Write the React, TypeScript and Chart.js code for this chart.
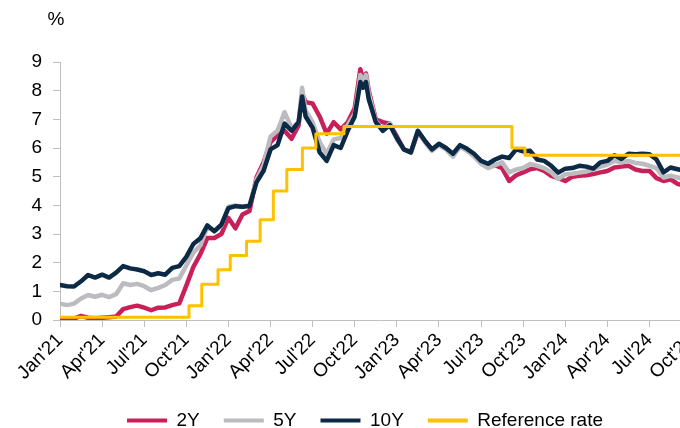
import React, { useEffect, useRef } from 'react';
import { Chart, registerables } from 'chart.js';

Chart.register(...registerables);

// month offsets from 1 Jan 2021
const months = [
  0, 0.5, 1, 1.5, 2, 2.5, 3, 3.5, 4, 4.5, 5, 5.5, 6, 6.5, 7, 7.5, 8, 8.5, 9, 9.5,
  10, 10.5, 11, 11.5, 12, 12.5, 13, 13.5, 14, 14.5, 15, 15.5, 16, 16.5, 17, 17.25, 17.5,
  18, 18.5, 19, 19.5, 20, 20.5, 21, 21.4, 21.6, 21.8, 22, 22.5, 23, 23.5, 24, 24.5,
  25, 25.5, 26, 26.5, 27, 27.5, 28, 28.5, 29, 29.5, 30, 30.5, 31, 31.5, 32, 32.5,
  33, 33.5, 34, 34.5, 35, 35.5, 36, 36.5, 37, 37.5, 38, 38.5, 39, 39.5, 40, 40.5,
  41, 41.5, 42, 42.5, 43, 43.5, 44, 44.5,
];

const yield2Y = [
  0.02, 0.0, 0.05, 0.14, 0.08, 0.06, 0.08, 0.1, 0.12, 0.38, 0.45, 0.5, 0.43, 0.34, 0.43, 0.44, 0.52, 0.58, 1.2, 1.85,
  2.3, 2.86, 2.86, 3.0, 3.56, 3.2, 3.68, 3.8, 4.97, 5.5, 6.2, 6.45, 6.6, 6.32, 6.79, 7.9, 7.6,
  7.55, 7.1, 6.5, 6.9, 6.65, 6.9, 7.4, 8.75, 8.35, 8.6, 8.0, 7.0, 6.9, 6.85, 6.4, 5.95,
  5.85, 6.55, 6.25, 5.95, 6.1, 6.0, 5.75, 6.05, 5.95, 5.75, 5.5, 5.35, 5.4, 5.3, 4.85, 5.05,
  5.15, 5.26, 5.3, 5.2, 5.03, 4.95, 4.85, 5.0, 5.03, 5.05, 5.09, 5.15, 5.2, 5.32, 5.35, 5.38,
  5.25, 5.2, 5.2, 4.95, 4.85, 4.91, 4.75, 4.68,
];

const yield5Y = [
  0.57, 0.52, 0.57, 0.75, 0.87, 0.81, 0.88, 0.8, 0.9, 1.28, 1.22, 1.26, 1.18, 1.04, 1.12, 1.22, 1.4, 1.45, 1.9, 2.35,
  2.6, 3.25, 3.1, 3.3, 3.95, 4.0, 3.95, 4.0, 4.9, 5.4, 6.4, 6.6, 7.25, 6.7, 6.9, 8.1, 7.3,
  6.9, 6.2, 5.8, 6.3, 6.35, 6.8, 7.2, 8.55, 8.3, 8.55, 7.9, 6.95, 6.6, 6.85, 6.3, 5.95,
  5.85, 6.6, 6.2, 5.9, 6.1, 5.95, 5.7, 6.05, 5.9, 5.7, 5.45, 5.3, 5.4, 5.5, 5.15, 5.25,
  5.3, 5.44, 5.38, 5.3, 5.15, 4.92, 5.08, 5.1, 5.14, 5.18, 5.26, 5.35, 5.42, 5.55, 5.5, 5.55,
  5.48, 5.45, 5.38, 5.3, 4.97, 5.03, 4.97, 4.91,
];

const yield10Y = [
  1.22, 1.18, 1.17, 1.35, 1.57, 1.48, 1.58, 1.48, 1.65, 1.88, 1.8, 1.76, 1.7, 1.57, 1.63, 1.58, 1.82, 1.88, 2.2, 2.65,
  2.85, 3.3, 3.1, 3.33, 3.9, 3.97, 3.95, 3.98, 4.8, 5.2, 5.95, 6.1, 6.85, 6.6, 6.9, 7.8, 7.1,
  6.7, 5.85, 5.55, 6.1, 6.0, 6.6, 7.1, 8.3, 8.1, 8.3, 7.7, 6.9, 6.6, 6.8, 6.35, 5.95,
  5.85, 6.6, 6.25, 5.95, 6.15, 6.0, 5.8, 6.1, 5.97, 5.8, 5.55, 5.45, 5.6, 5.7, 5.65, 5.95,
  5.88, 5.9, 5.6, 5.55, 5.38, 5.14, 5.28, 5.3, 5.38, 5.35, 5.28, 5.5, 5.55, 5.75, 5.62, 5.8,
  5.78, 5.8, 5.78, 5.6, 5.15, 5.32, 5.26, 5.2,
];

// reference rate change dates (month offsets) and levels
const refMonths = [0, 9.19, 10.1, 11.26, 12.13, 13.29, 14.26, 15.2, 16.16, 17.27, 18.23, 20.23, 32.2, 33.13, 45.6];
const refRate = [0.1, 0.5, 1.25, 1.75, 2.25, 2.75, 3.5, 4.5, 5.25, 6.0, 6.5, 6.75, 6.0, 5.75, 5.75];

const tickLabels = [
  "Jan'21", "Apr'21", "Jul'21", "Oct'21", "Jan'22", "Apr'22", "Jul'22", "Oct'22",
  "Jan'23", "Apr'23", "Jul'23", "Oct'23", "Jan'24", "Apr'24", "Jul'24", "Oct'24",
];

const FONT = "'Liberation Sans', Arial, sans-serif";

export default function App() {
  const ref = useRef<HTMLCanvasElement>(null);

  useEffect(() => {
    if (!ref.current) return;
    const pts = (xs: number[], ys: number[]) => xs.map((x, i) => ({ x, y: ys[i] }));
    const percentPlugin = {
      id: 'percentLabel',
      afterDraw(chart: any) {
        const ctx = chart.ctx;
        ctx.save();
        ctx.font = `19px ${FONT}`;
        ctx.fillStyle = '#000';
        ctx.textAlign = 'center';
        ctx.textBaseline = 'middle';
        ctx.fillText('%', chart.chartArea.left - 4, 20);
        ctx.restore();
      },
    };
    const chart = new Chart(ref.current, {
      type: 'line',
      data: {
        datasets: [
          { label: '2Y', data: pts(months, yield2Y), borderColor: '#c8215a', backgroundColor: '#c8215a', borderWidth: 4.5, order: 4 },
          { label: '5Y', data: pts(months, yield5Y), borderColor: '#bcbcc0', backgroundColor: '#bcbcc0', borderWidth: 4.5, order: 3 },
          { label: '10Y', data: pts(months, yield10Y), borderColor: '#0c2a45', backgroundColor: '#0c2a45', borderWidth: 4.5, order: 2 },
          { label: 'Reference rate', data: pts(refMonths, refRate), borderColor: '#ffc000', backgroundColor: '#ffc000', borderWidth: 3, stepped: 'before', order: 1 },
        ],
      },
      options: {
        animation: false,
        responsive: false,
        parsing: true,
        elements: { point: { radius: 0 }, line: { tension: 0, borderJoinStyle: 'round', borderCapStyle: 'round' } },
        layout: { padding: { top: 62, left: 0, right: 0, bottom: 0 } },
        scales: {
          x: {
            type: 'linear',
            min: 0,
            max: 45.6,
            afterFit: (s: any) => { s.height = 67; s.paddingRight = 30; },
            border: { display: true, color: '#bfbfbf', width: 1 },
            grid: { display: true, drawOnChartArea: false, drawTicks: true, tickLength: 7, color: '#bfbfbf' },
            ticks: {
              stepSize: 3,
              includeBounds: false,
              autoSkip: false,
              minRotation: 45,
              maxRotation: 45,
              padding: 2,
              color: '#000',
              font: { family: FONT, size: 19 },
              callback: (v: any) => {
                const i = Math.round(Number(v) / 3);
                return Math.abs(Number(v) - i * 3) < 1e-6 ? tickLabels[i] ?? '' : '';
              },
            },
          },
          y: {
            min: 0,
            max: 9,
            afterFit: (s: any) => { s.width = 60; },
            border: { display: true, color: '#bfbfbf', width: 1 },
            grid: { display: true, drawOnChartArea: false, drawTicks: true, tickLength: 7, color: '#bfbfbf' },
            ticks: { stepSize: 1, padding: 11, color: '#000', font: { family: FONT, size: 19 } },
          },
        },
        plugins: {
          title: { display: false },
          tooltip: { enabled: false },
          legend: {
            display: true,
            position: 'bottom',
            labels: {
              boxWidth: 40,
              boxHeight: 4,
              padding: 24,
              color: '#000',
              font: { family: FONT, size: 19 },
              sort: (a: any, b: any) => a.datasetIndex - b.datasetIndex,
              generateLabels: (c: any) => {
                const items = Chart.defaults.plugins.legend.labels.generateLabels(c);
                return items.map((it: any) => ({ ...it, lineWidth: 0, fillStyle: it.strokeStyle }));
              },
            },
          },
        },
      },
      plugins: [percentPlugin],
    } as any);
    return () => chart.destroy();
  }, []);

  return (
    <div style={{ position: 'absolute', left: 0, top: 0, width: 680, height: 428, overflow: 'hidden', background: '#fff' }}>
      <canvas ref={ref} width={730} height={440} style={{ width: 730, height: 440, display: 'block' }} />
    </div>
  );
}
